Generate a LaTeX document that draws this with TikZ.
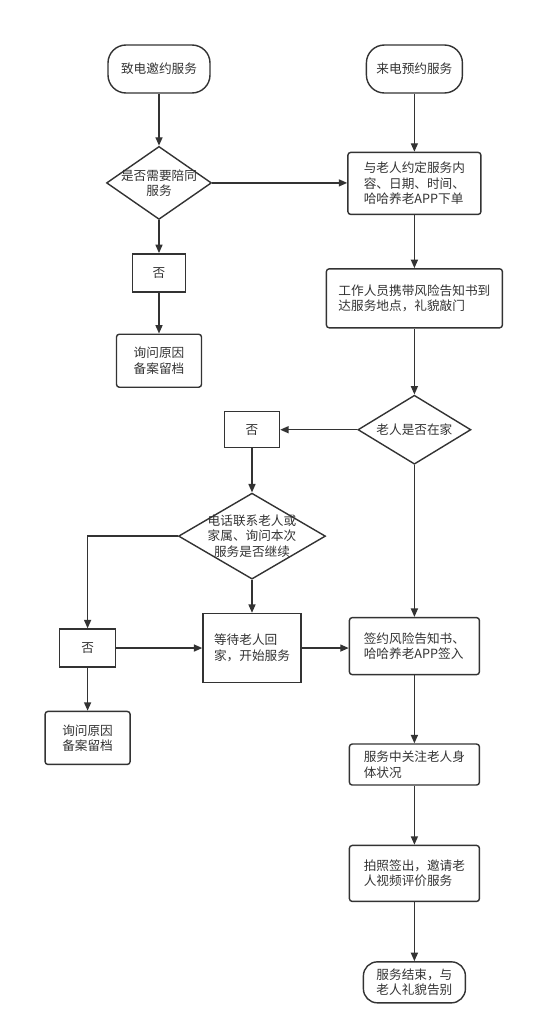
\documentclass[tikz,border=0pt]{standalone}
\usepackage{fontspec}
\setmainfont{Noto Sans CJK SC}
\usetikzlibrary{positioning,shapes.geometric,arrows.meta}
\definecolor{ink}{HTML}{333333}

\begin{document}
\begin{tikzpicture}[
    font=\fontsize{9}{11}\selectfont,
    every label/.style={text=ink, inner sep=0pt},
    flow/.style={draw=ink, line width=1pt, -{Triangle[length=6pt,width=5pt]}},
    terminal/.style={draw=ink, line width=1pt, text=ink, rectangle, rounded corners=0.45cm, align=left, inner sep=1pt},
    box/.style={draw=ink, line width=1pt, text=ink, rectangle, rounded corners=2pt, align=left, inner sep=1pt},
    plain/.style={draw=ink, line width=1pt, text=ink, rectangle, align=left, inner sep=1pt},
    decision/.style={draw=ink, line width=1pt, diamond, inner sep=0pt},
    ]
    \useasboundingbox (0,0) rectangle (13.3,-25.6);
    \node[terminal, minimum width=2.55cm, minimum height=1.2cm] (call) at (3.975,-1.725) {致电邀约服务};
    \node[terminal, minimum width=2.4cm, minimum height=1.2cm, right=3.875cm of call] (incall) {来电预约服务};
    \node[decision, minimum width=2.625cm, minimum height=1.825cm, below=1.3cm of call,
        label={[align=center]center:是否需要陪同\\服务}] (escort) {};
    \node[plain, minimum width=1.325cm, minimum height=0.95cm, below=0.825cm of escort] (noA) {否};
    \node[box, minimum width=2.125cm, minimum height=1.325cm, below=1.025cm of noA] (askA) {询问原因\\备案留档};
    \node[box, minimum width=3.325cm, minimum height=1.55cm, below=1.45cm of incall] (book) {与老人约定服务内\\容、日期、时间、\\哈哈养老APP下单};
    \node[box, minimum width=4.4cm, minimum height=1.475cm, below=1.325cm of book] (visit) {工作人员携带风险告知书到\\达服务地点，礼貌敲门};
    \node[decision, minimum width=2.825cm, minimum height=1.725cm, below=1.65cm of visit,
        label={center:老人是否在家}] (home) {};
    \node[plain, minimum width=1.375cm, minimum height=0.9cm, left=1.925cm of home] (noB) {否};
    \node[decision, minimum width=3.675cm, minimum height=2.15cm, below=1.1cm of noB,
        label={[align=center]center:电话联系老人或\\家属、询问本次\\服务是否继续}] (phone) {};
    \node[plain, minimum width=2.45cm, minimum height=1.725cm, below=0.825cm of phone] (wait) {等待老人回\\家，开始服务};
    \node[plain, minimum width=1.4cm, minimum height=0.95cm, left=2.15cm of wait] (noC) {否};
    \node[box, minimum width=2.125cm, minimum height=1.325cm, below=1.075cm of noC] (askB) {询问原因\\备案留档};
    \node[box, minimum width=3.25cm, minimum height=1.425cm, below=3.8cm of home] (sign) {签约风险告知书、\\哈哈养老APP签入};
    \node[box, minimum width=3.25cm, minimum height=1.025cm, below=1.7cm of sign] (care) {服务中关注老人身\\体状况};
    \node[box, minimum width=3.25cm, minimum height=1.4cm, below=1.475cm of care] (photo) {拍照签出，邀请老\\人视频评价服务};
    \node[terminal, rounded corners=0.35cm, minimum width=2.55cm, minimum height=1.025cm, below=1.475cm of photo] (bye) {服务结束，与\\老人礼貌告别};

    \draw[flow] (call) -- (escort);
    \draw[flow] (escort) -- (noA);
    \draw[flow] (noA) -- (askA);
    \draw[flow] (escort.east) -- (escort.east -| book.west);
    \draw[flow] (incall) -- (book);
    \draw[flow] (book) -- (visit);
    \draw[flow] (visit) -- (home);
    \draw[flow] (home) -- (noB);
    \draw[flow] (noB) -- (phone);
    \draw[flow] (phone) -- (wait);
    \draw[flow] (phone.west) -| (noC.north);
    \draw[flow] (noC) -- (askB);
    \draw[flow] (noC) -- (wait);
    \draw[flow] (wait.east) -- (wait.east -| sign.west);
    \draw[flow] (home) -- (sign);
    \draw[flow] (sign) -- (care);
    \draw[flow] (care) -- (photo);
    \draw[flow] (photo) -- (bye);
\end{tikzpicture}
\end{document}
